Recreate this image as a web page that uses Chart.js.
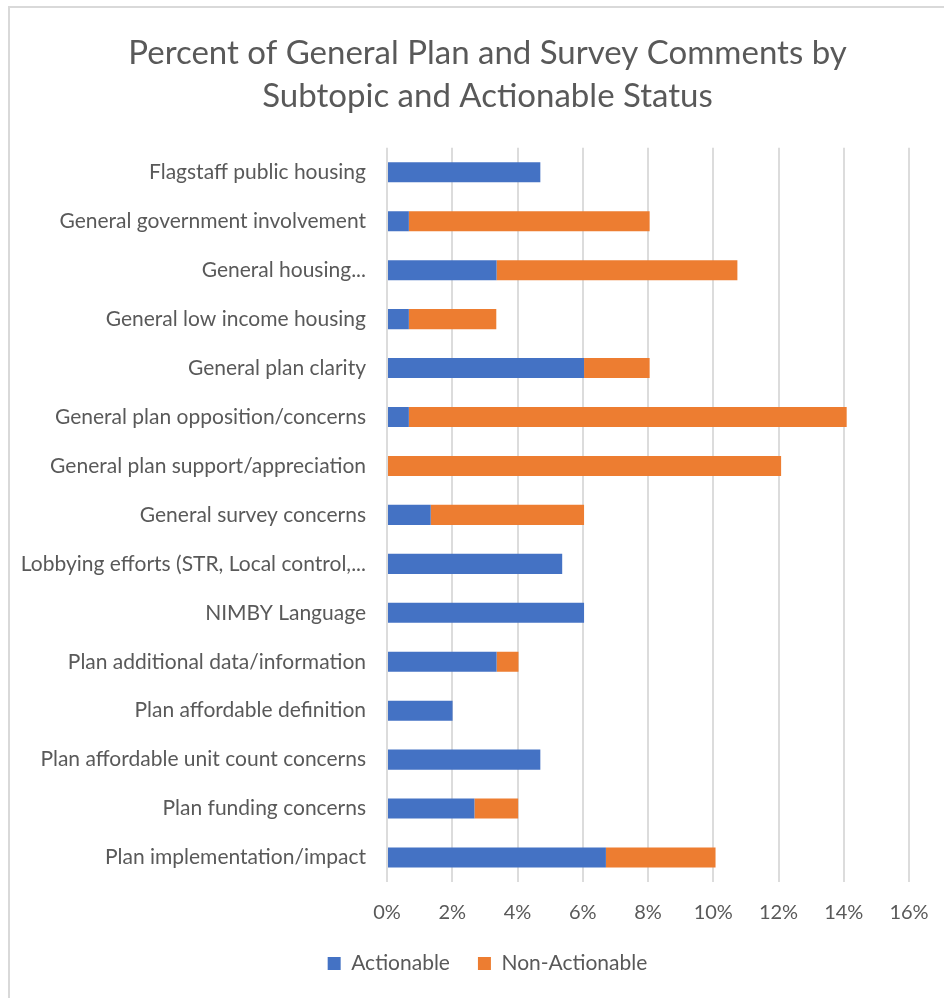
<!DOCTYPE html>
<html>
<head>
<meta charset="utf-8">
<script src="https://cdn.jsdelivr.net/npm/chart.js@4"></script>
<style>
  html, body { margin: 0; padding: 0; background: #fff; overflow: hidden; }
  #frame {
    position: absolute; left: 8px; top: 6px; width: 1000px; height: 1100px;
    border: 2px solid #d9d9d9; box-sizing: border-box;
  }
  #wrap { position: absolute; left: 0; top: 0; width: 975px; height: 998px; }
</style>
</head>
<body>
<div id="frame"></div>
<div id="wrap"><canvas id="bars"></canvas></div>
<script>
const subtopics = [
  'Flagstaff public housing',
  'General government involvement',
  'General housing...',
  'General low income housing',
  'General plan clarity',
  'General plan opposition/concerns',
  'General plan support/appreciation',
  'General survey concerns',
  'Lobbying efforts (STR, Local control,...',
  'NIMBY Language',
  'Plan additional data/information',
  'Plan affordable definition',
  'Plan affordable unit count concerns',
  'Plan funding concerns',
  'Plan implementation/impact',
]
// percent of comments
const actionable = [4.70, 0.67, 3.36, 0.67, 6.04, 0.67, 0, 1.34, 5.37, 6.04, 3.36, 2.01, 4.70, 2.68, 6.71]
const nonActionable = [0, 7.38, 7.38, 2.68, 2.01, 13.42, 12.08, 4.70, 0, 0, 0.67, 0, 0, 1.34, 3.36]
const xTicks = [0, 2, 4, 6, 8, 10, 12, 14, 16]

Chart.defaults.font.family = 'Lato'
Chart.defaults.color = '#595959'

const barConfig = {
  type: 'bar',
  data: {
    labels: subtopics,
    datasets: [
      {
        label: 'Actionable',
        backgroundColor: '#4472C4',
        data: actionable,
        barPercentage: 0.41,
        categoryPercentage: 1,
      },
      {
        label: 'Non-Actionable',
        backgroundColor: '#ED7D31',
        data: nonActionable,
        barPercentage: 0.41,
        categoryPercentage: 1,
      },
    ],
  },
  options: {
    indexAxis: 'y',
    responsive: true,
    maintainAspectRatio: false,
    animation: false,
    layout: { padding: { left: 0, right: 0, top: 0, bottom: 14 } },
    plugins: {
      title: {
        display: true,
        text: ['Percent of General Plan and Survey Comments by', 'Subtopic and Actionable Status'],
        font: { size: 33, weight: 'normal', lineHeight: 1.3 },
        color: '#595959',
        padding: { top: 32, bottom: 30 },
      },
      legend: {
        position: 'bottom',
        labels: {
          boxWidth: 13,
          boxHeight: 13,
          padding: 28,
          font: { size: 21 },
          color: '#595959',
        },
      },
      tooltip: { enabled: false },
    },
    scales: {
      x: {
        stacked: true,
        min: xTicks[0],
        max: xTicks[xTicks.length - 1],
        afterBuildTicks: (scale) => { scale.ticks = xTicks.map(v => ({ value: v })) },
        afterFit: (scale) => { scale.height = 43 },
        ticks: {
          callback: (v) => v + '%',
          font: { size: 20 },
          color: '#595959',
          padding: 19,
        },
        grid: { color: '#dcdcdc', lineWidth: 2, drawTicks: false },
        border: { display: false },
      },
      y: {
        stacked: true,
        afterFit: (scale) => { scale.width = 387 },
        ticks: {
          font: { size: 21 },
          color: '#595959',
          padding: 21,
          autoSkip: false,
        },
        grid: { display: false, drawTicks: false },
        border: { display: false },
      },
      // empty spacer on the right so the plot ends at 16%
      spacer: {
        type: 'linear',
        position: 'right',
        afterFit: (scale) => { scale.width = 66 },
        ticks: { display: false },
        grid: { display: false, drawTicks: false },
        border: { display: false },
      },
    },
  },
}

const barsCtx = document.getElementById('bars')
window.myBar = new Chart(barsCtx, barConfig)
</script>
</body>
</html>
